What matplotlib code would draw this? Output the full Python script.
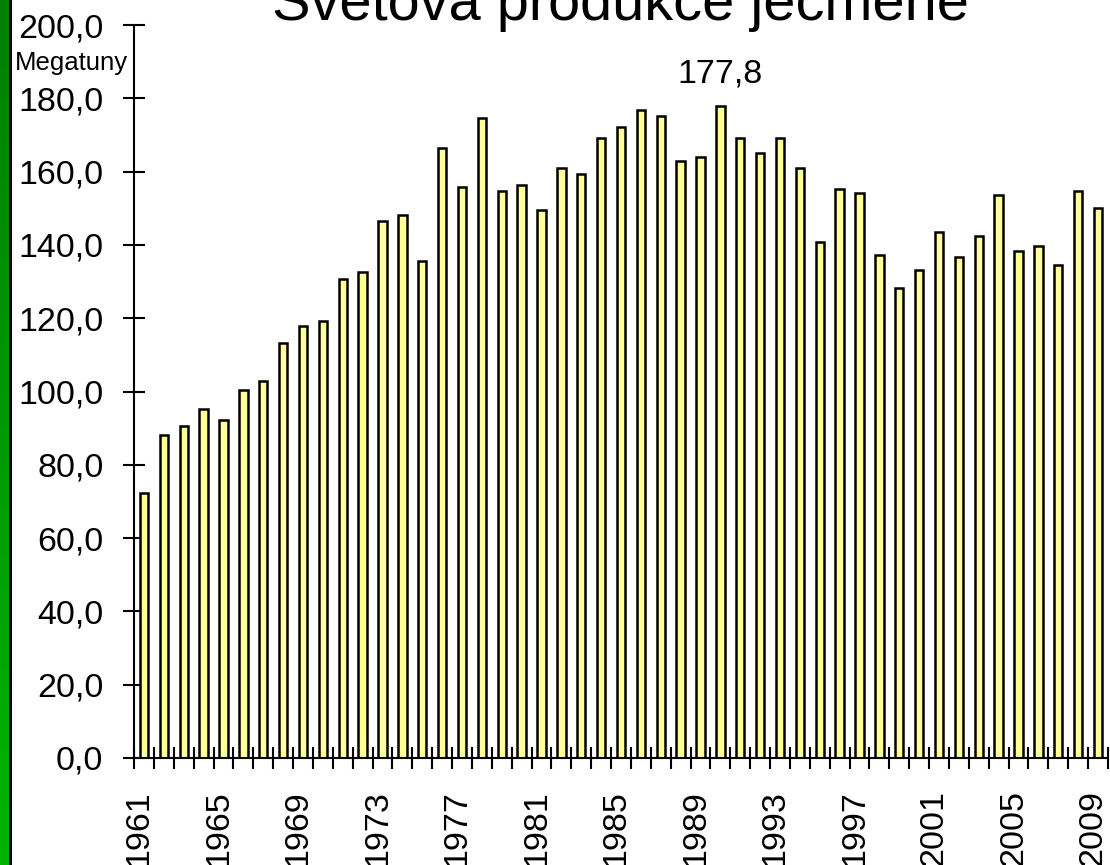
import numpy as np
import matplotlib
matplotlib.use("Agg")
import matplotlib.pyplot as plt
from matplotlib.patches import Rectangle
from matplotlib.colors import LinearSegmentedColormap
from matplotlib.transforms import ScaledTranslation

# ---- data ----
years = list(range(1961, 2010))
production = [
    72.4, 88.1, 90.6, 95.2, 92.3, 100.4, 102.8, 113.2, 118.0, 119.2,
    130.7, 132.5, 146.5, 148.2, 135.5, 166.4, 155.9, 174.6, 154.8, 156.4,
    149.5, 161.1, 159.4, 169.3, 172.2, 176.8, 175.2, 162.9, 164.0, 177.8,
    169.3, 165.2, 169.3, 161.1, 140.7, 155.2, 154.1, 137.2, 128.3, 133.1,
    143.6, 136.6, 142.4, 153.5, 138.4, 139.6, 134.4, 154.8, 150.1,
]
ytick_values = [0, 20, 40, 60, 80, 100, 120, 140, 160, 180, 200]
ytick_labels = ["0,0", "20,0", "40,0", "60,0", "80,0", "100,0", "120,0",
                "140,0", "160,0", "180,0", "200,0"]
xlabel_years = [1961, 1965, 1969, 1973, 1977, 1981, 1985, 1989, 1993, 1997,
                2001, 2005, 2009]
title = "Světová produkce ječmene"
unit_label = "Megatuny"

plt.rcParams['font.family'] = ['Liberation Sans', 'DejaVu Sans']

W, H = 1110, 865
fig = plt.figure(figsize=(W / 100, H / 100), dpi=100)
fig.patch.set_facecolor("white")

# green gradient stripe on the left
gax = fig.add_axes([0, 0, 9 / W, 1])
grad = np.linspace(0, 1, 256).reshape(-1, 1)
cmap = LinearSegmentedColormap.from_list("g", ["#007f00", "#00b400"])
gax.imshow(grad, aspect="auto", cmap=cmap, extent=[0, 1, 0, 1], origin="upper")
gax.set_axis_off()
fig.patches.append(Rectangle((9 / W, 0), 3 / W, 1, transform=fig.transFigure,
                             facecolor="black", edgecolor="none"))

ax = fig.add_axes([134 / W, 107 / H, 974 / W, 733 / H])
x = np.arange(len(years))
ax.bar(x, production, width=0.42, color="#ffff99", edgecolor="black",
       linewidth=1.8, zorder=2)

ax.set_xlim(-0.5, len(years) - 0.5)
ax.set_ylim(0, 200)

for s in ["top", "right"]:
    ax.spines[s].set_visible(False)
for s in ["left", "bottom"]:
    ax.spines[s].set_linewidth(1.5)
    ax.spines[s].set_zorder(3)

ax.set_yticks(ytick_values)
ax.set_yticklabels(ytick_labels, fontsize=24.5)
ax.tick_params(axis="y", direction="inout", length=16, width=1.5, pad=14)

# x: major ticks at category boundaries, labels on minor ticks at centers
ax.set_xticks(np.arange(len(years) + 1) - 0.5)
ax.set_xticklabels([])
ax.tick_params(axis="x", which="major", direction="inout", length=16, width=1.5)
lab_pos = [years.index(y) for y in xlabel_years]
ax.set_xticks(lab_pos, minor=True)
ax.set_xticklabels([str(y) for y in xlabel_years], minor=True, rotation=90,
                   fontsize=24.5, va="top", ha="center")
ax.tick_params(axis="x", which="minor", length=0, pad=23)
shift = ScaledTranslation(-5 / 100, 0, fig.dpi_scale_trans)
for lbl in ax.get_xticklabels(minor=True):
    lbl.set_transform(lbl.get_transform() + shift)

# annotate maximum
imax = int(np.argmax(production))
ax.annotate(f"{production[imax]:.1f}".replace(".", ","), xy=(imax, production[imax]),
            xytext=(0, 17), textcoords="offset points", ha="center",
            va="baseline", fontsize=24.5)

fig.text(128 / W, 1 - 63 / H, unit_label, ha="right", va="center", fontsize=18.5)
fig.text(621 / W, 1 - 20 / H, title, ha="center", va="baseline", fontsize=41.6)

fig.savefig("out.png", dpi=100, facecolor="white")
